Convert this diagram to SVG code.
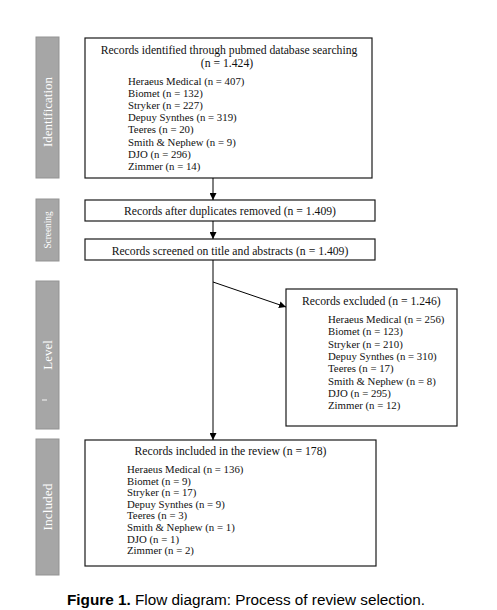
<svg xmlns="http://www.w3.org/2000/svg" width="497" height="610" viewBox="0 0 497 610">
<defs>
<marker id="ah" viewBox="0 0 10 10" refX="10" refY="5" markerWidth="7" markerHeight="7" markerUnits="userSpaceOnUse" orient="auto">
<path d="M0,0 L10,5 L0,10 Z" fill="#000"/>
</marker>
<style>
.bar{fill:#a6a6a6;stroke:#939393;stroke-width:1}
.bt{font-family:"Liberation Serif","Times New Roman",serif;fill:#fff;text-anchor:middle}
.box{fill:#fff;stroke:#1a1a1a;stroke-width:1.2}
.h{font-family:"Liberation Serif","Times New Roman",serif;font-size:11.7px;fill:#111}
.l{font-family:"Liberation Serif","Times New Roman",serif;font-size:10.8px;fill:#111}
.c{stroke:#000;stroke-width:1;fill:none}
</style>
</defs>
<rect width="497" height="610" fill="#fff"/>
<g id="stage-identification"><rect class="bar" x="36" y="37" width="23" height="141"/><text class="bt" font-size="13" transform="translate(52,112) rotate(-90)">Identification</text></g>
<g id="stage-screening"><rect class="bar" x="36" y="199" width="23" height="62"/><text class="bt" font-size="9.3" transform="translate(50.5,230) rotate(-90)">Screening</text></g>
<g id="stage-level"><rect class="bar" x="36" y="281" width="23" height="148"/><text class="bt" font-size="13" transform="translate(52,355) rotate(-90)">Level</text><line x1="47" y1="400" x2="42" y2="400" stroke="#fff" stroke-width="0.9"/></g>
<g id="stage-included"><rect class="bar" x="36" y="439" width="23" height="136"/><text class="bt" font-size="13.4" transform="translate(52,507) rotate(-90)">Included</text></g>
<g id="node-identified"><rect class="box" x="85" y="38" width="287" height="140"/>
<text class="h" x="229" y="54" text-anchor="middle">Records identified through pubmed database searching</text>
<text class="h" x="227" y="67" text-anchor="middle">(n = 1.424)</text>
<text class="l" x="128" y="85">Heraeus Medical (n = 407)</text>
<text class="l" x="128" y="97">Biomet (n = 132)</text>
<text class="l" x="128" y="109.2">Stryker (n = 227)</text>
<text class="l" x="128" y="121.3">Depuy Synthes (n = 319)</text>
<text class="l" x="128" y="133.4">Teeres (n = 20)</text>
<text class="l" x="128" y="145.5">Smith &amp; Nephew (n = 9)</text>
<text class="l" x="128" y="157.7">DJO (n = 296)</text>
<text class="l" x="128" y="170">Zimmer (n = 14)</text></g>
<g id="node-duplicates"><rect class="box" x="85" y="200" width="290" height="21"/>
<text class="h" x="230" y="215" text-anchor="middle">Records after duplicates removed (n = 1.409)</text></g>
<g id="node-screened"><rect class="box" x="85" y="239" width="290" height="21"/>
<text class="h" x="230" y="254.5" text-anchor="middle">Records screened on title and abstracts (n = 1.409)</text></g>
<g id="node-excluded"><rect class="box" x="286" y="289" width="171" height="137"/>
<text class="h" x="302" y="305">Records excluded (n = 1.246)</text>
<text class="l" x="328" y="323">Heraeus Medical (n = 256)</text>
<text class="l" x="328" y="335.3">Biomet (n = 123)</text>
<text class="l" x="328" y="347.6">Stryker (n = 210)</text>
<text class="l" x="328" y="359.9">Depuy Synthes (n = 310)</text>
<text class="l" x="328" y="372.2">Teeres (n = 17)</text>
<text class="l" x="328" y="384.5">Smith &amp; Nephew (n = 8)</text>
<text class="l" x="328" y="396.8">DJO (n = 295)</text>
<text class="l" x="328" y="409">Zimmer (n = 12)</text></g>
<g id="node-included"><rect class="box" x="85" y="440" width="291" height="126"/>
<text class="h" x="230.5" y="455" text-anchor="middle">Records included in the review (n = 178)</text>
<text class="l" x="127" y="473">Heraeus Medical (n = 136)</text>
<text class="l" x="127" y="484.6">Biomet (n = 9)</text>
<text class="l" x="127" y="496.2">Stryker (n = 17)</text>
<text class="l" x="127" y="507.8">Depuy Synthes (n = 9)</text>
<text class="l" x="127" y="519.4">Teeres (n = 3)</text>
<text class="l" x="127" y="531">Smith &amp; Nephew (n = 1)</text>
<text class="l" x="127" y="542.6">DJO (n = 1)</text>
<text class="l" x="127" y="554.2">Zimmer (n = 2)</text></g>
<g id="connectors">
<line class="c" x1="213" y1="178" x2="213" y2="200" marker-end="url(#ah)"/>
<line class="c" x1="213" y1="221" x2="213" y2="239" marker-end="url(#ah)"/>
<line class="c" x1="213" y1="260" x2="213" y2="440" marker-end="url(#ah)"/>
<line class="c" x1="213" y1="282" x2="286" y2="307" marker-end="url(#ah)"/>
</g>
<text x="67" y="605" font-family="'Liberation Sans',Arial,sans-serif" font-size="15.3" fill="#000"><tspan font-weight="bold">Figure 1.</tspan> Flow diagram: Process of review selection.</text>
</svg>
